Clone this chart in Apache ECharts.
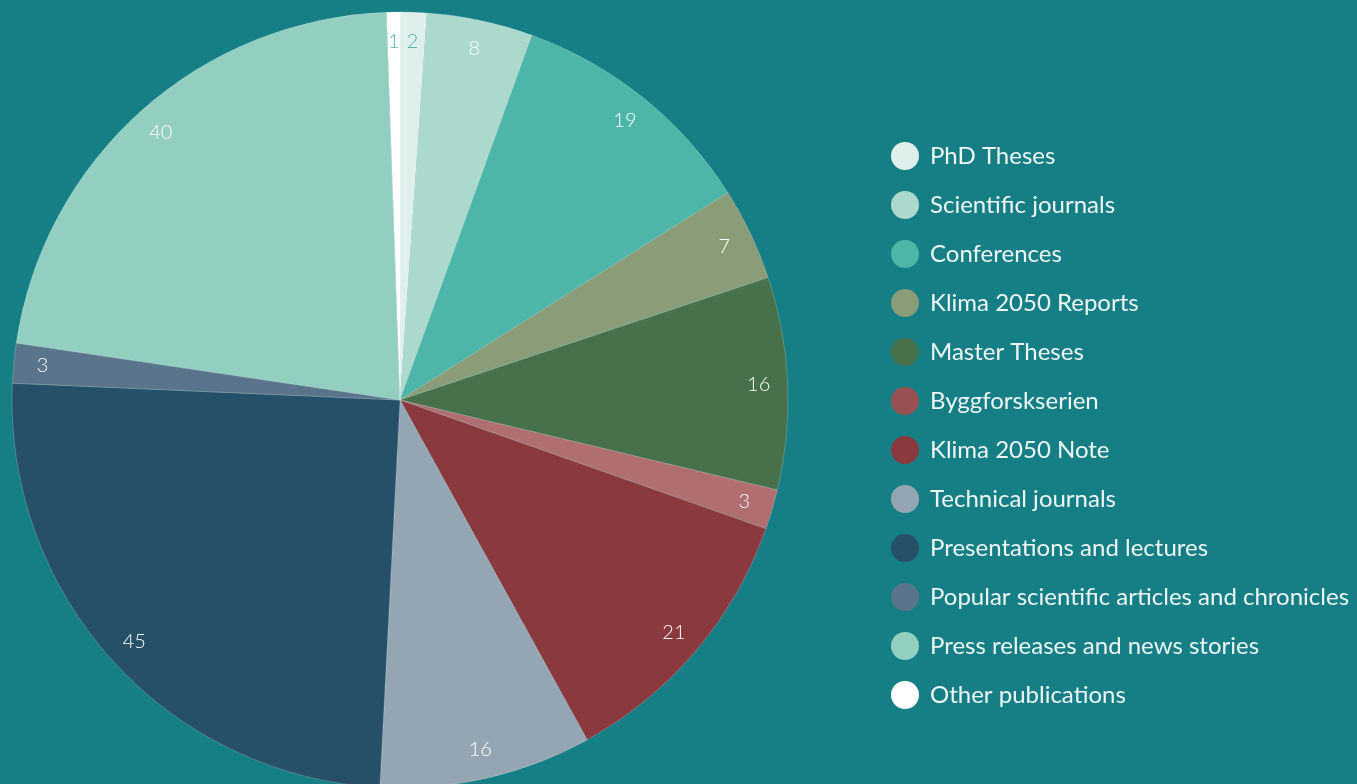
<!DOCTYPE html>
<html>
<head>
<meta charset="utf-8">
<script src="https://cdn.jsdelivr.net/npm/echarts@6/dist/echarts.min.js"></script>
<style>
  html, body { margin: 0; padding: 0; background: #167f86; }
  #chart { width: 1357px; height: 784px; }
</style>
</head>
<body>
<div id="chart"></div>
<script>
var categories = ['PhD Theses', 'Scientific journals', 'Conferences', 'Klima 2050 Reports',
    'Master Theses', 'Byggforskserien', 'Klima 2050 Note', 'Technical journals',
    'Presentations and lectures', 'Popular scientific articles and chronicles',
    'Press releases and news stories', 'Other publications'];
var values = [2, 8, 19, 7, 16, 3, 21, 16, 45, 3, 40, 1];
var sliceColors = ['#dff0ec', '#acd9cd', '#4db6a8', '#8a9c78', '#47714a', '#b06e70',
    '#8a3a3f', '#94a6b4', '#264f68', '#5a758b', '#93cfc0', '#ffffff'];
var legendColors = ['#dff0ec', '#acd9cd', '#4db6a8', '#8a9c78', '#47714a', '#985052',
    '#8a3a3f', '#94a6b4', '#264f68', '#5a758b', '#93cfc0', '#ffffff'];
var labelColors = ['#4db6a8', '#fff', '#fff', '#fff', '#fff', '#fff',
    '#fff', '#fff', '#fff', '#fff', '#fff', '#4db6a8'];

var FONT = 'Lato, "Open Sans", sans-serif';

var pieData = categories.map(function(name, i) {
    return { name: name, value: values[i], itemStyle: { color: sliceColors[i] } };
});
var labelData = categories.map(function(name, i) {
    return { name: name, value: values[i], label: { color: labelColors[i] } };
});
var legendData = categories.map(function(name, i) {
    return { name: name, itemStyle: { color: legendColors[i], borderWidth: 0 } };
});

var chart = echarts.init(document.getElementById('chart'));
chart.setOption({
    backgroundColor: '#167f86',
    animation: false,
    legend: {
        orient: 'vertical',
        left: 891,
        top: 142,
        padding: 0,
        icon: 'circle',
        itemWidth: 28,
        itemHeight: 28,
        itemGap: 21,
        data: legendData,
        textStyle: {
            color: '#eef6f5',
            fontFamily: FONT,
            fontSize: 24,
            lineHeight: 28,
            padding: [0, 0, 0, 6]
        }
    },
    series: [{
        name: 'Publications',
        type: 'pie',
        center: [400, 400],
        radius: [0, 388],
        startAngle: 90,
        clockwise: true,
        avoidLabelOverlap: false,
        label: { show: false },
        labelLine: { show: false },
        itemStyle: { borderColor: 'rgba(255,255,255,0.2)', borderWidth: 1 },
        data: pieData
    }, {
        // transparent ring, only used to place the value labels near the rim
        name: 'Labels',
        type: 'pie',
        center: [400, 400],
        radius: [324, 388],
        startAngle: 90,
        clockwise: true,
        silent: true,
        avoidLabelOverlap: false,
        itemStyle: { color: 'transparent', borderWidth: 0 },
        label: {
            show: true,
            position: 'inside',
            formatter: '{c}',
            fontFamily: FONT,
            fontSize: 20,
            fontWeight: 300
        },
        labelLine: { show: false },
        data: labelData
    }]
});
</script>
</body>
</html>
